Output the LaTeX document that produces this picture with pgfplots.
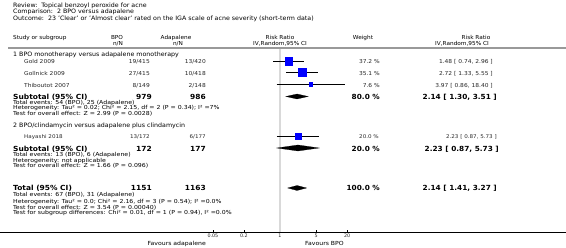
\documentclass[border=0pt]{standalone}
\usepackage{graphicx}
\usepackage{pgfplots}
\pgfplotsset{compat=1.18}
\usepackage{fontspec}
\setmainfont{DejaVu Sans}
\newcommand{\fs}[1]{\fontsize{#1}{#1}\selectfont}
% text helper: x (px), y (px from top), anchor, font, horizontal scale, text
\newcommand{\T}[6]{\node[anchor=#3, inner sep=0pt, font=#4] at ({#1},{248-#2}) {\scalebox{#5}[1]{#6}};}
\newcommand{\ttl}{\fs{6}}
\newcommand{\hdr}{\fs{5.5}}
\newcommand{\row}{\fs{5.4}\color{black!85}}
\newcommand{\bod}{\fs{5.5}}
\newcommand{\bld}{\fs{7}\bfseries}
\begin{document}
\begin{tikzpicture}[x=1pt,y=1pt]
\path[use as bounding box] (0,0) rectangle (566,248);
\begin{axis}[at={(0pt,16pt)}, anchor=south west, width=566pt, height=232pt,
  scale only axis, xmode=log, xmin=3.7267e-6, xmax=3.507e5, ymin=-232, ymax=0,
  axis x line=bottom, axis y line=none,
  xtick={0.05,0.2,1,5,20}, xticklabels={0.05,0.2,1,5,20},
  tick align=inside, major tick length=2pt, minor tick num=0,
  x axis line style={-, line width=0.5pt, black},
  every tick/.style={black, line width=0.4pt},
  ticklabel style={font=\fs{4.8}, text=black!85},
  xticklabel style={yshift=1.2pt},
  clip=false]
% line of no effect
\addplot[black!15, line width=1.5pt] coordinates {(1,-49) (1,-232)};
% studies: squares then CIs
\addplot[only marks, mark=square*, mark size=3.9, mark options={fill=blue, draw=blue}] coordinates {(1.48,-61)};
\addplot[only marks, mark=square*, mark size=3.8, mark options={fill=blue, draw=blue}] coordinates {(2.72,-72.5)};
\addplot[only marks, mark=square*, mark size=1.8, mark options={fill=blue, draw=blue}] coordinates {(3.97,-84.5)};
\addplot[only marks, mark=square*, mark size=2.8, mark options={fill=blue, draw=blue}] coordinates {(2.23,-136)};
\addplot[black, line width=0.5pt] coordinates {(0.74,-61) (2.96,-61)};
\addplot[black, line width=0.5pt] coordinates {(1.33,-72.5) (5.55,-72.5)};
\addplot[black, line width=0.5pt] coordinates {(0.86,-84.5) (18.40,-84.5)};
\addplot[black, line width=0.5pt] coordinates {(0.87,-136) (5.73,-136)};
% diamonds
\addplot[fill=black, draw=black, line width=0.2pt] coordinates {(1.30,-96.5) (2.14,-94) (3.51,-96.5) (2.14,-99)} -- cycle;
\addplot[fill=black, draw=black, line width=0.2pt] coordinates {(0.87,-148) (2.23,-145) (5.73,-148) (2.23,-151)} -- cycle;
\addplot[fill=black, draw=black, line width=0.2pt] coordinates {(1.41,-188) (2.14,-185.5) (3.27,-188) (2.14,-190.5)} -- cycle;
\end{axis}
% header line
\draw[black!40, line width=1.5pt] (8,{248-48}) -- (566,{248-48});
% titles
\T{13}{5}{mid west}{\ttl}{1.05}{Review:\ \ Topical benzoyl peroxide for acne}
\T{13}{11.2}{mid west}{\ttl}{1.05}{Comparison:\ \ 2 BPO versus adapalene}
\T{13}{17.5}{mid west}{\ttl}{1.05}{Outcome:\ \ 23 'Clear' or 'Almost clear' rated on the IGA scale of acne severity (short-term data)}
% column headers
\T{13}{37}{mid west}{\hdr}{1.05}{Study or subgroup}
\T{117}{37}{mid}{\hdr}{1.05}{BPO}
\T{118}{43}{mid}{\hdr}{1.05}{n/N}
\T{176}{37}{mid}{\hdr}{1.05}{Adapalene}
\T{178}{43}{mid}{\hdr}{1.05}{n/N}
\T{280}{37}{mid}{\hdr}{1.05}{Risk Ratio}
\T{280}{43}{mid}{\hdr}{1.05}{IV,Random,95\% CI}
\T{363}{37}{mid}{\hdr}{1.05}{Weight}
\T{476}{37}{mid}{\hdr}{1.05}{Risk Ratio}
\T{462}{43}{mid}{\hdr}{1.05}{IV,Random,95\% CI}
% subgroup 1
\T{13}{54}{mid west}{\ttl}{1.05}{1 BPO monotherapy versus adapalene monotherapy}
\T{24}{61}{mid west}{\row}{1.1}{Gold 2009}
\T{150}{61}{mid east}{\row}{1.1}{19/415}
\T{206}{61}{mid east}{\row}{1.1}{13/420}
\T{380}{61}{mid east}{\row}{1.1}{37.2 \%}
\T{493}{61}{mid east}{\row}{1.1}{1.48 [ 0.74, 2.96 ]}
\T{24}{72.5}{mid west}{\row}{1.1}{Gollnick 2009}
\T{150}{72.5}{mid east}{\row}{1.1}{27/415}
\T{206}{72.5}{mid east}{\row}{1.1}{10/418}
\T{380}{72.5}{mid east}{\row}{1.1}{35.1 \%}
\T{493}{72.5}{mid east}{\row}{1.1}{2.72 [ 1.33, 5.55 ]}
\T{24}{84.5}{mid west}{\row}{1.1}{Thiboutot 2007}
\T{150}{84.5}{mid east}{\row}{1.1}{8/149}
\T{206}{84.5}{mid east}{\row}{1.1}{2/148}
\T{380}{84.5}{mid east}{\row}{1.1}{7.6 \%}
\T{493}{84.5}{mid east}{\row}{1.1}{3.97 [ 0.86, 18.40 ]}
\T{13}{96.3}{mid west}{\bld}{1.07}{Subtotal (95\% CI)}
\T{152}{96.3}{mid east}{\bld}{1.07}{979}
\T{206}{96.3}{mid east}{\bld}{1.07}{986}
\T{380}{96.3}{mid east}{\bld}{1.05}{80.0 \%}
\T{497}{96.3}{mid east}{\bld}{1.05}{2.14 [ 1.30, 3.51 ]}
\T{13}{102}{mid west}{\bod}{1.13}{Total events: 54 (BPO), 25 (Adapalene)}
\T{13}{107.2}{mid west}{\bod}{1.13}{Heterogeneity: Tau² = 0.02; Chi² = 2.15, df = 2 (P = 0.34); I² =7\%}
\T{13}{112.4}{mid west}{\bod}{1.13}{Test for overall effect: Z = 2.99 (P = 0.0028)}
% subgroup 2
\T{13}{125}{mid west}{\ttl}{1.05}{2 BPO/clindamycin versus adapalene plus clindamycin}
\T{24}{136}{mid west}{\fs{5.1}\color{black!85}}{1.1}{Hayashi 2018}
\T{150}{136}{mid east}{\fs{5.1}\color{black!85}}{1.1}{13/172}
\T{206}{136}{mid east}{\fs{5.1}\color{black!85}}{1.1}{6/177}
\T{379}{136}{mid east}{\fs{5.1}\color{black!85}}{1.1}{20.0 \%}
\T{497}{136}{mid east}{\fs{5.1}\color{black!85}}{1.1}{2.23 [ 0.87, 5.73 ]}
\T{13}{148.3}{mid west}{\bld}{1.07}{Subtotal (95\% CI)}
\T{152}{148.3}{mid east}{\bld}{1.07}{172}
\T{206}{148.3}{mid east}{\bld}{1.07}{177}
\T{380}{148.3}{mid east}{\bld}{1.05}{20.0 \%}
\T{499}{148.3}{mid east}{\bld}{1.05}{2.23 [ 0.87, 5.73 ]}
\T{13}{154.2}{mid west}{\bod}{1.13}{Total events: 13 (BPO), 6 (Adapalene)}
\T{13}{159.7}{mid west}{\bod}{1.13}{Heterogeneity: not applicable}
\T{13}{165.2}{mid west}{\bod}{1.13}{Test for overall effect: Z = 1.66 (P = 0.096)}
% total
\T{13}{188}{mid west}{\bld}{1.07}{Total (95\% CI)}
\T{152}{188}{mid east}{\bld}{1.07}{1151}
\T{206}{188}{mid east}{\bld}{1.07}{1163}
\T{380}{188}{mid east}{\bld}{1.05}{100.0 \%}
\T{497}{188}{mid east}{\bld}{1.05}{2.14 [ 1.41, 3.27 ]}
\T{13}{194}{mid west}{\bod}{1.13}{Total events: 67 (BPO), 31 (Adapalene)}
\T{13}{200.3}{mid west}{\bod}{1.13}{Heterogeneity: Tau² = 0.0; Chi² = 2.16, df = 3 (P = 0.54); I² =0.0\%}
\T{13}{206.3}{mid west}{\bod}{1.13}{Test for overall effect: Z = 3.54 (P = 0.00040)}
\T{13}{212}{mid west}{\bod}{1.13}{Test for subgroup differences: Chi² = 0.01, df = 1 (P = 0.94), I² =0.0\%}
% favours labels
\T{206}{243}{mid east}{\fs{5.6}}{1.1}{Favours adapalene}
\T{305}{243}{mid west}{\fs{5.6}}{1.1}{Favours BPO}
\end{tikzpicture}
\end{document}
